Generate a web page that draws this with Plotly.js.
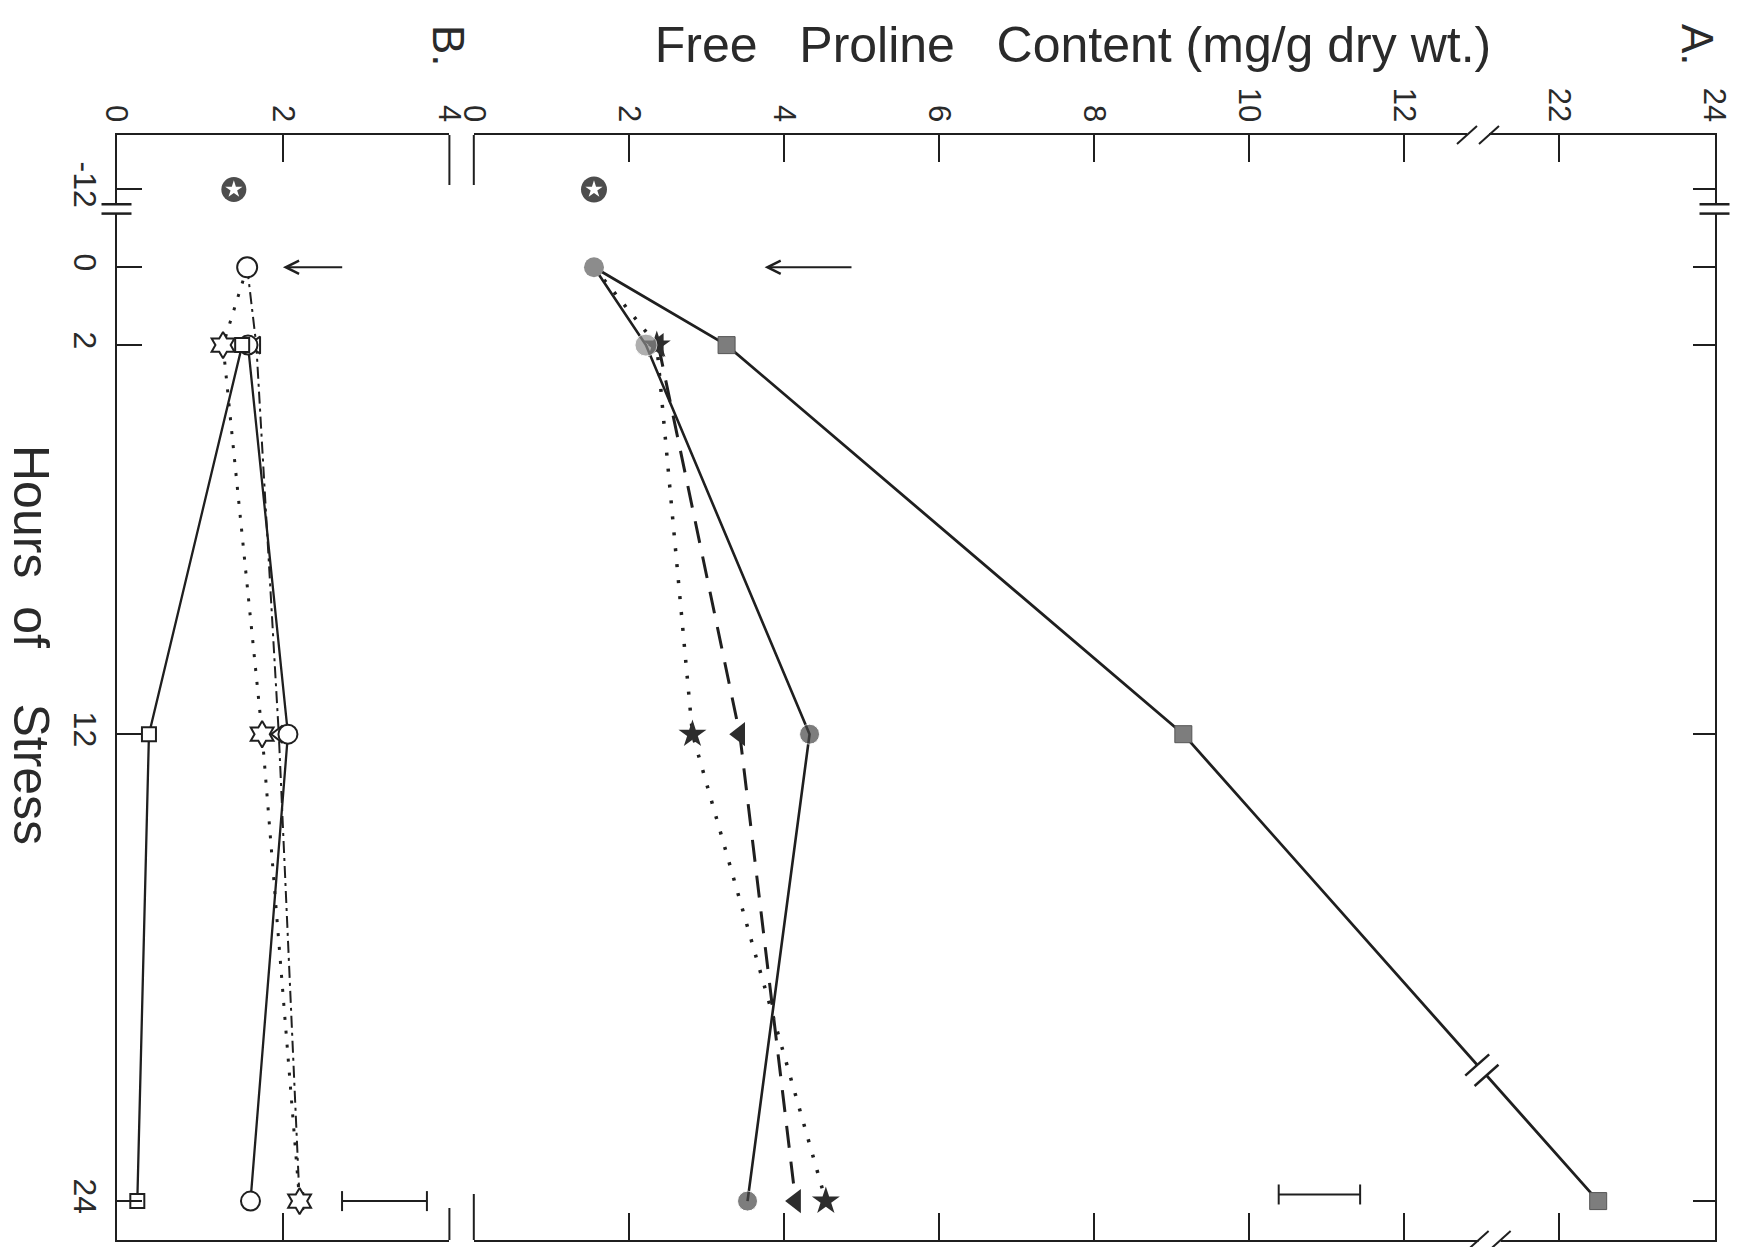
<!DOCTYPE html>
<html><head><meta charset="utf-8">
<script src="https://cdn.plot.ly/plotly-3.0.1.min.js"></script>
<style>html,body{margin:0;padding:0;background:#fff}#chart{width:1740px;height:1247px}</style>
</head><body><div id="chart"></div>
<script>
// ---------------- data ----------------
const hours = [0, 2, 12, 24];
const controlHour = -12;
const hourTickVals = [-12, 0, 2, 12, 24];
const hourTickText = ['-12', '0', '2', '12', '24'];

// Panel A : free proline (mg/g dry wt.)
const A_control = [1.55, 1.55];            // -12 h and 0 h
const A_square = [1.55, 3.26, 9.15, 22.5];  // solid line, grey squares
const A_circle = [1.55, 2.22, 4.33, 3.53];  // solid line, filled circles
const A_triangleHours = [2, 12, 24];
const A_triangle = [2.38, 3.43, 4.15];      // dashed line, filled triangles
const A_star = [1.55, 2.36, 2.82, 4.54];    // dotted line, filled stars
const A_tickVals = [0, 2, 4, 6, 8, 10, 12, 22, 24];
const LSD_A = 1.05;

// Panel B
const B_control = 1.41;                     // -12 h
const B_dashed = [1.57, 1.68, 1.95, 2.2];   // dash-dot line, open triangles
const B_star = [1.57, 1.28, 1.75, 2.2];     // dotted line, open stars
const B_solidHours = [2, 12, 24];
const B_square = [1.51, 0.39, 0.25];        // solid line, open squares
const B_circle = [1.58, 2.06, 1.61];        // solid line, open circles
const B_tickVals = [0, 2, 4];
const LSD_B = 1.02;

// ---------------- geometry / style ----------------
const W = 1740, H = 1247;
const INK = '#1f1f1f', TEXT = '#2a2a2a';
const FONT = 'Liberation Sans, Arial, Helvetica, sans-serif';
const geo = { bx0: 116.5, bx1: 449.4, ax0: 473.8, ax1: 1714.5, yTop: 135, yBot: 1240 };
const B_RANGE = [0, 4], A_RANGE = [0, 16], Y_RANGE = [25, -3.4];

function posA(v) { return v <= 12 ? v : v - 8; }      // broken axis 12 // 22
function hourPos(h) { return h >= 0 ? h : h / 6; }    // broken axis -12 // 0

function pxB(v) { return geo.bx0 + (v - B_RANGE[0]) / (B_RANGE[1] - B_RANGE[0]) * (geo.bx1 - geo.bx0); }
function pxA(p) { return geo.ax0 + (p - A_RANGE[0]) / (A_RANGE[1] - A_RANGE[0]) * (geo.ax1 - geo.ax0); }
function pyH(h) { return geo.yTop + (h - Y_RANGE[1]) / (Y_RANGE[0] - Y_RANGE[1]) * (geo.yBot - geo.yTop); }
function fx(px) { return px / W; }
function fy(py) { return 1 - py / H; }

const hp = hours.map(hourPos);
const traces = [];
function lineTrace(xs, ys, ax, line) {
  return { type: 'scatter', mode: 'lines', x: xs, y: ys, xaxis: ax, yaxis: ax === 'x' ? 'y' : 'y2', line: line, hoverinfo: 'skip' };
}
function markerTrace(xs, ys, ax, marker) {
  return { type: 'scatter', mode: 'markers', x: xs, y: ys, xaxis: ax, yaxis: ax === 'x' ? 'y' : 'y2', marker: marker, hoverinfo: 'skip', cliponaxis: false };
}
const openM = (symbol, size) => ({ symbol: symbol, size: size, color: '#fff', line: { color: INK, width: 2 } });

// lines
traces.push(lineTrace(B_dashed, hp, 'x', { color: INK, width: 2, dash: '12px,5px,3px,5px' }));
traces.push(lineTrace(B_star, hp, 'x', { color: INK, width: 3, dash: '3px,11px' }));
traces.push(lineTrace(B_square, B_solidHours.map(hourPos), 'x', { color: INK, width: 2.3 }));
traces.push(lineTrace(B_circle, B_solidHours.map(hourPos), 'x', { color: INK, width: 2.3 }));
traces.push(lineTrace(A_square.map(posA), hp, 'x2', { color: INK, width: 2.8 }));
traces.push(lineTrace(A_circle.map(posA), hp, 'x2', { color: INK, width: 2.6 }));
traces.push(lineTrace(A_triangle.map(posA), A_triangleHours.map(hourPos), 'x2', { color: INK, width: 3, dash: '22px,14px' }));
traces.push(lineTrace(A_star.map(posA), hp, 'x2', { color: INK, width: 3.5, dash: '3px,13px' }));

// markers panel B
traces.push(markerTrace(B_dashed.slice(1), hp.slice(1), 'x', openM('triangle-left', 15)));
traces.push(markerTrace(B_circle, B_solidHours.map(hourPos), 'x', openM('circle', 19)));
traces.push(markerTrace(B_square, B_solidHours.map(hourPos), 'x', openM('square', 14)));
traces.push(markerTrace(B_star.slice(1), hp.slice(1), 'x', openM('hexagram', 20)));
traces.push(markerTrace([B_dashed[0]], [hp[0]], 'x', openM('circle', 20)));
traces.push(markerTrace([B_control], [hourPos(controlHour)], 'x', { symbol: 'circle', size: 25, color: '#4d4d4d' }));
traces.push(markerTrace([B_control], [hourPos(controlHour)], 'x', { symbol: 'star', size: 13, color: '#fff' }));

// markers panel A
traces.push(markerTrace(A_star.slice(1).map(posA), hp.slice(1), 'x2', { symbol: 'star', size: 21, color: '#2d2d2d' }));
traces.push(markerTrace(A_triangle.map(posA), A_triangleHours.map(hourPos), 'x2', { symbol: 'triangle-left', size: 21, color: '#2d2d2d' }));
traces.push(markerTrace(A_circle.slice(1).map(posA), hp.slice(1), 'x2', { symbol: 'circle', size: [22, 20, 20], color: ['#8c8c8c', '#474747', '#474747'] }));
traces.push(markerTrace(A_square.slice(1).map(posA), hp.slice(1), 'x2', { symbol: 'square', size: 17, color: '#7d7d7d', line: { color: '#555', width: 1 } }));
traces.push(markerTrace([posA(A_control[1])], [hourPos(0)], 'x2', { symbol: 'circle', size: 20, color: '#8c8c8c' }));
traces.push(markerTrace([posA(A_control[0])], [hourPos(controlHour)], 'x2', { symbol: 'circle', size: 26, color: '#4d4d4d' }));
traces.push(markerTrace([posA(A_control[0])], [hourPos(controlHour)], 'x2', { symbol: 'star', size: 13, color: '#fff' }));

// ---------------- decorations ----------------
const shapes = [];
function seg(x0, y0, x1, y1, w, c) {
  shapes.push({ type: 'line', xref: 'paper', yref: 'paper', layer: 'above',
    x0: fx(x0), y0: fy(y0), x1: fx(x1), y1: fy(y1), line: { color: c || INK, width: w || 2 } });
}
// corner pieces of the inner frame edges
seg(pxB(4), geo.yTop, pxB(4), geo.yTop + 50);
seg(pxB(4), geo.yBot - 32, pxB(4), geo.yBot);
seg(pxA(0), geo.yTop, pxA(0), geo.yTop + 50);
seg(pxA(0), geo.yBot - 46, pxA(0), geo.yBot);
// hour-axis breaks
[pxB(0), pxA(16)].forEach(function (x) {
  const y1 = pyH(-1.62), y2 = pyH(-1.38);
  seg(x, y1, x, y2, 6, '#fff');
  seg(x - 15, y1, x + 15, y1, 2.5);
  seg(x - 15, y2, x + 15, y2, 2.5);
});
// proline-axis breaks (panel A)
[[12.95, geo.yTop], [13.1, geo.yBot]].forEach(function (b) {
  const xa = pxA(b[0]) - 11, xb = pxA(b[0]) + 11, y = b[1];
  seg(xa, y, xb, y, 6, '#fff');
  seg(xa - 10, y + 9, xa + 10, y - 9, 2);
  seg(xb - 10, y + 9, xb + 10, y - 9, 2);
});
// break on the square series line
(function () {
  const p0 = posA(A_square[2]), p1 = posA(A_square[3]);
  const P0 = [pxA(p0), pyH(hp[2])], P1 = [pxA(p1), pyH(hp[3])];
  const t = (13.0 - p0) / (p1 - p0);
  const c = [P0[0] + t * (P1[0] - P0[0]), P0[1] + t * (P1[1] - P0[1])];
  const L = Math.hypot(P1[0] - P0[0], P1[1] - P0[1]);
  const d = [(P1[0] - P0[0]) / L, (P1[1] - P0[1]) / L];
  const n = [d[1], -d[0]];
  seg(c[0] - 7 * d[0], c[1] - 7 * d[1], c[0] + 7 * d[0], c[1] + 7 * d[1], 9, '#fff');
  [-7, 7].forEach(function (k) {
    const m = [c[0] + k * d[0], c[1] + k * d[1]];
    seg(m[0] - 16 * n[0], m[1] - 16 * n[1], m[0] + 16 * n[0], m[1] + 16 * n[1], 2.5);
  });
})();
// LSD bars
function lsdBar(x0, x1, y) { seg(x0, y, x1, y, 2); seg(x0, y - 10, x0, y + 10, 2); seg(x1, y - 10, x1, y + 10, 2); }
lsdBar(pxB(2.71), pxB(2.71 + LSD_B), pyH(24));
lsdBar(pxA(10.38), pxA(10.38 + LSD_A), pyH(23.83));

const annotations = [
  { xref: 'x', yref: 'y', x: 2.0, y: 0, axref: 'x', ayref: 'y', ax: 2.73, ay: 0, text: '', showarrow: true,
    arrowhead: 5, arrowsize: 1.3, arrowwidth: 2, arrowcolor: INK },
  { xref: 'x2', yref: 'y2', x: 3.75, y: 0, axref: 'x2', ayref: 'y2', ax: 4.89, ay: 0, text: '', showarrow: true,
    arrowhead: 5, arrowsize: 1.3, arrowwidth: 2, arrowcolor: INK },
  { xref: 'paper', yref: 'paper', x: fx(31), y: fy(645), xanchor: 'center', yanchor: 'middle',
    text: 'Hours\u00a0\u00a0of\u00a0\u00a0\u00a0\u00a0Stress',
    textangle: 90, showarrow: false, font: { size: 50, color: TEXT, family: FONT } },
  { xref: 'paper', yref: 'paper', x: fx(449), y: fy(46), xanchor: 'center', yanchor: 'middle',
    text: 'B.', textangle: 90, showarrow: false, font: { size: 44, color: TEXT, family: FONT } },
  { xref: 'paper', yref: 'paper', x: fx(1698), y: fy(45), xanchor: 'center', yanchor: 'middle',
    text: 'A.', textangle: 90, showarrow: false, font: { size: 44, color: TEXT, family: FONT } }
];

const xCommon = {
  side: 'top', showline: true, linecolor: INK, linewidth: 2, mirror: 'ticks',
  ticks: 'inside', ticklen: 27, tickwidth: 2, tickcolor: INK, tickangle: 90,
  ticklabelstandoff: 0, tickfont: { size: 31, color: TEXT, family: FONT },
  showgrid: false, zeroline: false, fixedrange: true
};
const yCommon = {
  range: Y_RANGE, domain: [fy(geo.yBot), fy(geo.yTop)], showline: true, linecolor: INK, linewidth: 2,
  ticks: 'inside', tickwidth: 2, tickcolor: INK, tickmode: 'array',
  tickvals: hourTickVals.map(hourPos), ticktext: hourTickText,
  showgrid: false, zeroline: false, fixedrange: true
};

const layout = {
  width: W, height: H, margin: { l: 0, r: 0, t: 0, b: 0 },
  paper_bgcolor: '#fff', plot_bgcolor: 'rgba(0,0,0,0)', showlegend: false,
  font: { family: FONT, color: TEXT },
  title: { text: 'Free\u00a0\u00a0\u00a0Proline\u00a0\u00a0\u00a0Content (mg/g dry wt.)',
    xref: 'container', yref: 'container', x: fx(1073), y: fy(44), xanchor: 'center', yanchor: 'middle',
    font: { size: 50, color: TEXT, family: FONT } },
  xaxis: Object.assign({}, xCommon, { domain: [fx(geo.bx0), fx(geo.bx1)], range: B_RANGE, anchor: 'y',
    tickmode: 'array', tickvals: B_tickVals, ticktext: B_tickVals.map(String) }),
  xaxis2: Object.assign({}, xCommon, { domain: [fx(geo.ax0), fx(geo.ax1)], range: A_RANGE, anchor: 'y2',
    tickmode: 'array', tickvals: A_tickVals.map(posA), ticktext: A_tickVals.map(String) }),
  yaxis: Object.assign({}, yCommon, { anchor: 'x', side: 'left', ticklen: 25, tickangle: 90,
    ticklabelstandoff: 2, tickfont: { size: 32, color: TEXT, family: FONT } }),
  yaxis2: Object.assign({}, yCommon, { anchor: 'x2', side: 'right', ticklen: 22, showticklabels: false }),
  shapes: shapes, annotations: annotations
};

Plotly.newPlot('chart', traces, layout, { displayModeBar: false, staticPlot: true });
</script>
</body></html>
